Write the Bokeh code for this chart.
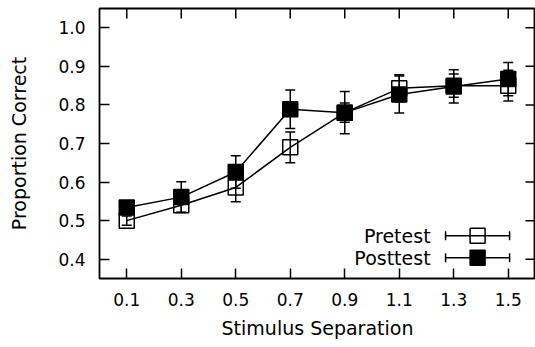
import math
from bokeh.plotting import figure
from bokeh.models import (FixedTicker, Whisker, ColumnDataSource, Label, Range1d, TeeHead)
from bokeh.embed import file_html
from bokeh.resources import INLINE

# ---- data ----
separation = [0.1, 0.3, 0.5, 0.7, 0.9, 1.1, 1.3, 1.5]
pretest = [0.500, 0.540, 0.586, 0.690, 0.780, 0.843, 0.850, 0.850]
pretest_err = [0.012, 0.018, 0.037, 0.040, 0.025, 0.035, 0.030, 0.040]
posttest = [0.534, 0.561, 0.626, 0.789, 0.780, 0.827, 0.848, 0.867]
posttest_err = [0.012, 0.040, 0.042, 0.050, 0.055, 0.048, 0.043, 0.043]
x_ticks = [0.1, 0.3, 0.5, 0.7, 0.9, 1.1, 1.3, 1.5]
x_tick_labels = ["0.1", "0.3", "0.5", "0.7", "0.9", "1.1", "1.3", "1.5"]
y_ticks = [0.4, 0.5, 0.6, 0.7, 0.8, 0.9, 1.0]
y_tick_labels = ["0.4", "0.5", "0.6", "0.7", "0.8", "0.9", "1.0"]
series_names = ["Pretest", "Posttest"]

# ---- layout constants (legend placement, in plot units) ----
X_MIN, X_MAX = 0.0, 1.6
Y_MIN, Y_MAX = 0.35, 1.05
LEG_TEXT_X = 1.215
LEG_KEY_X0, LEG_KEY_X1 = 1.27, 1.505
LEG_ROWS_Y = [0.461, 0.404]

FONT = "DejaVu Sans"

p = figure(frame_width=436, frame_height=270,
           x_range=Range1d(X_MIN, X_MAX), y_range=Range1d(Y_MIN, Y_MAX),
           output_backend="svg", toolbar_location=None,
           min_border_left=99, min_border_right=0, min_border_top=8, min_border_bottom=60)

p.xgrid.visible = False
p.ygrid.visible = False
p.outline_line_color = "black"
p.outline_line_width = 1.8
p.background_fill_color = "white"
p.border_fill_color = "white"

for ax, ticks, labels in [(p.xaxis[0], x_ticks, x_tick_labels), (p.yaxis[0], y_ticks, y_tick_labels)]:
    ax.ticker = FixedTicker(ticks=ticks)
    ax.major_label_overrides = {t: l for t, l in zip(ticks, labels)}
    ax.major_tick_in = 10
    ax.major_tick_out = 0
    ax.major_tick_line_width = 1.5
    ax.major_tick_line_color = "black"
    ax.minor_tick_line_color = None
    ax.axis_line_color = None
    ax.major_label_text_font = FONT
    ax.major_label_text_font_size = "17px"
    ax.major_label_text_color = "black"
    ax.axis_label_text_font = FONT
    ax.axis_label_text_font_size = "19px"
    ax.axis_label_text_font_style = "normal"
    ax.axis_label_text_color = "black"

p.xaxis[0].axis_label = "Stimulus Separation"
p.yaxis[0].axis_label = "Proportion Correct"
p.xaxis[0].major_label_standoff = 14
p.yaxis[0].major_label_standoff = 14
p.xaxis[0].axis_label_standoff = 8
p.yaxis[0].axis_label_standoff = 25

# mirrored inward ticks on the top and right borders (half of each dash is clipped by the frame)
p.scatter(x=x_ticks, y=[Y_MAX] * len(x_ticks), marker="dash", angle=math.pi / 2, size=20,
          line_color="black", line_width=1.5)
p.scatter(x=[X_MAX] * len(y_ticks), y=y_ticks, marker="dash", size=20,
          line_color="black", line_width=1.5)

for vals, errs, fill in [(pretest, pretest_err, None), (posttest, posttest_err, "black")]:
    src = ColumnDataSource(dict(
        x=separation, y=vals,
        upper=[v + e for v, e in zip(vals, errs)],
        lower=[v - e for v, e in zip(vals, errs)]))
    p.line("x", "y", source=src, line_color="black", line_width=1.5)
    wh = Whisker(base="x", upper="upper", lower="lower", source=src,
                 line_color="black", line_width=1.5, level="glyph",
                 upper_head=TeeHead(size=10, line_width=1.5, line_color="black"),
                 lower_head=TeeHead(size=10, line_width=1.5, line_color="black"))
    p.add_layout(wh)
    p.scatter("x", "y", source=src, marker="square", size=15,
              fill_color=fill, line_color="black", line_width=1.5)

# ---- key (legend) ----
key_src = ColumnDataSource(dict(y=LEG_ROWS_Y, x0=[LEG_KEY_X0] * 2, x1=[LEG_KEY_X1] * 2,
                                xm=[(LEG_KEY_X0 + LEG_KEY_X1) / 2] * 2,
                                fill=["white", "black"]))
p.add_layout(Whisker(dimension="width", base="y", lower="x0", upper="x1", source=key_src,
                     line_color="black", line_width=1.5, level="glyph",
                     upper_head=TeeHead(size=9, line_width=1.5, line_color="black"),
                     lower_head=TeeHead(size=9, line_width=1.5, line_color="black")))
p.scatter("xm", "y", source=key_src, marker="square", size=15, fill_color="fill",
          line_color="black", line_width=1.5)

for name, yv in zip(series_names, LEG_ROWS_Y):
    p.add_layout(Label(x=LEG_TEXT_X, y=yv, text=name, text_align="right", text_baseline="middle",
                       text_font=FONT, text_font_size="19px", text_color="black"))

open("out.html", "w").write(file_html(p, INLINE))
